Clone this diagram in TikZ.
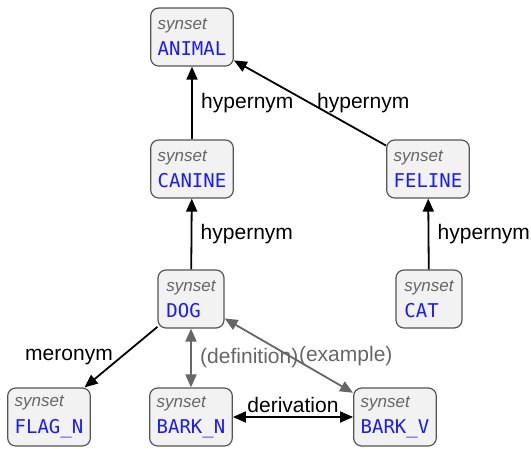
\documentclass[tikz,border=0pt]{standalone}
\usepackage{fontspec}
\setmainfont{Liberation Sans}
\setmonofont{DejaVu Sans Mono}
\usetikzlibrary{arrows.meta}

\definecolor{boxfill}{HTML}{F2F2F2}
\definecolor{boxline}{HTML}{555555}
\definecolor{relgray}{HTML}{666666}
\definecolor{synblue}{HTML}{1A1AFF}

\newcommand{\synnode}[1]{{\fontsize{17}{20}\selectfont\itshape\color{relgray}synset}\\[8pt]%
  {\fontsize{19}{22}\selectfont\ttfamily\color{synblue}#1}}

\begin{document}
\begin{tikzpicture}[x=1pt,y=-1pt,line width=1.8pt,
    >={Triangle[length=13pt,width=11pt]}]

        \useasboundingbox (0,0) rectangle (531,448);

        \begin{scope}[every node/.style={draw=boxline,fill=boxfill,rounded corners=8pt,
            line width=1.2pt,align=left,inner sep=7pt,minimum width=66pt,minimum height=58pt}]
          \node (animal) at (192,37)  {\synnode{ANIMAL}};
          \node (canine) at (192,169) {\synnode{CANINE}};
          \node (feline) at (428,169) {\synnode{FELINE}};
          \node (dog)    at (191,299) {\synnode{DOG}};
          \node (cat)    at (429,299) {\synnode{CAT}};
          \node (flagn)  at (49,417)  {\synnode{FLAG\_N}};
          \node (barkn)  at (191,417) {\synnode{BARK\_N}};
          \node (barkv)  at (395,417) {\synnode{BARK\_V}};
        \end{scope}

        \begin{scope}[every node/.style={font=\fontsize{21}{25}\selectfont}]
          \path (canine) edge[->] node[right=5pt] {hypernym} (animal);
          \path (feline) edge[->] node[pos=0.15,above=16pt] {hypernym} (animal);
          \path (dog)    edge[->] node[right=5pt] {hypernym} (canine);
          \path (cat)    edge[->] node[right=5pt] {hypernym} (feline);
          \path (dog)    edge[->] node[left=4pt] {meronym} (flagn);
          \path (barkn)  edge[<->] node[above] {derivation} (barkv);

          \begin{scope}[every edge/.style={draw,relgray},text=relgray]
            \path (dog) edge[<->] node[right=5pt] {(definition)} (barkn);
            \path (dog) edge[<->] node[right=6pt] {(example)} (barkv);
          \end{scope}
        \end{scope}

      \end{tikzpicture}
\end{document}
